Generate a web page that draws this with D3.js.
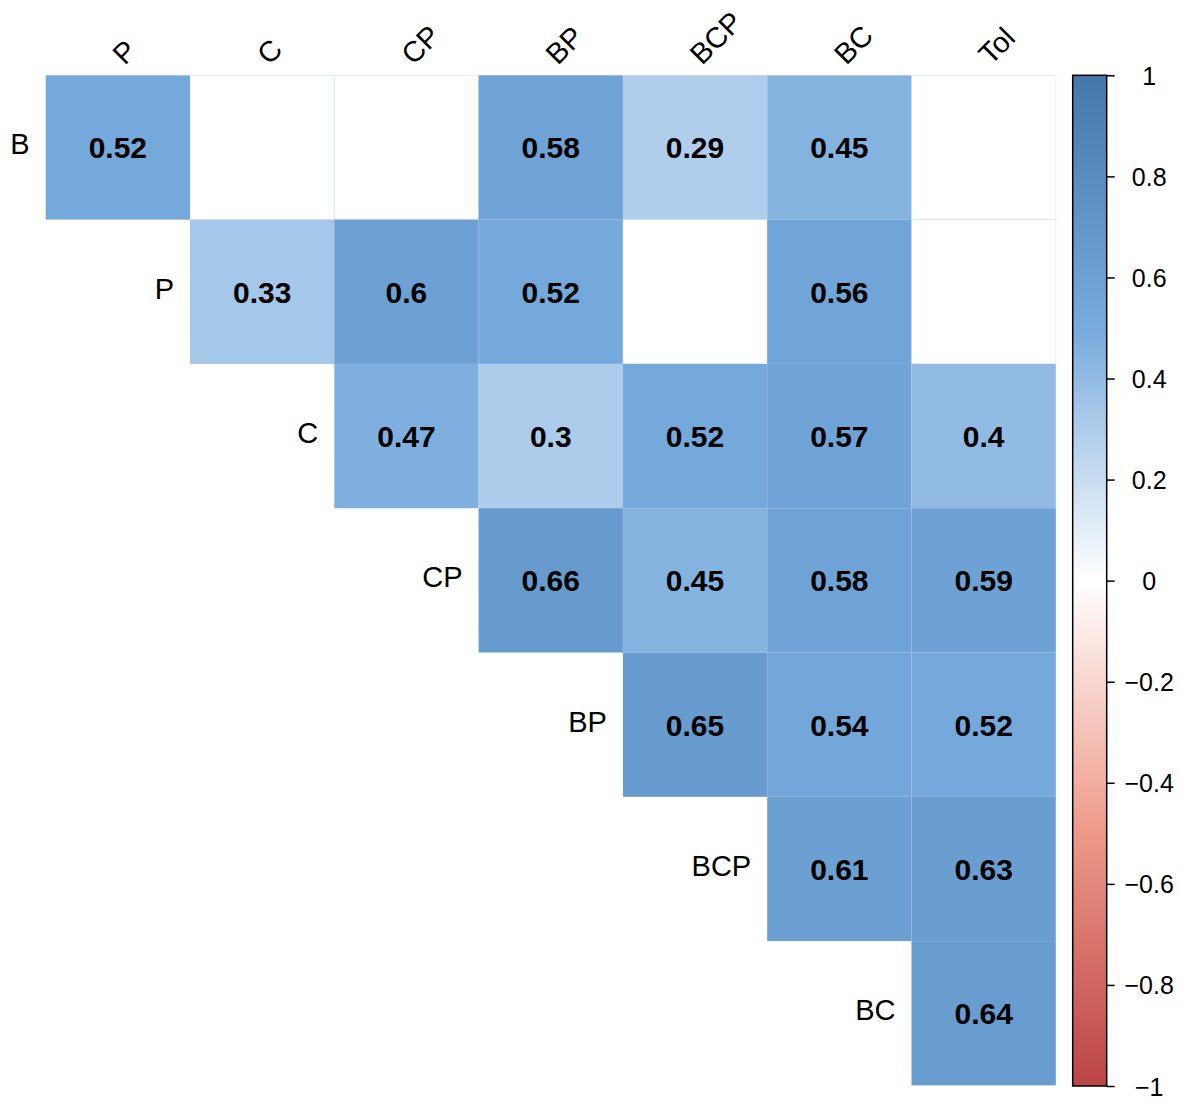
<!DOCTYPE html>
<html>
<head>
<meta charset="utf-8">
<script src="https://cdn.jsdelivr.net/npm/d3@7"></script>
<style>
  html, body { margin: 0; padding: 0; background: #fff; }
  svg { display: block; font-family: "Liberation Sans", Arial, sans-serif; }
</style>
</head>
<body>
<svg id="chart" width="1182" height="1102"></svg>
<script>
// Upper-triangle correlation matrix; null = not significant (left blank)
const rowLabels = ["B", "P", "C", "CP", "BP", "BCP", "BC"];
const colLabels = ["P", "C", "CP", "BP", "BCP", "BC", "Tol"];
const rowB   = [0.52, null, null, 0.58, 0.29, 0.45, null];
const rowP   = [null, 0.33, 0.6, 0.52, null, 0.56, null];
const rowC   = [null, null, 0.47, 0.3, 0.52, 0.57, 0.4];
const rowCP  = [null, null, null, 0.66, 0.45, 0.58, 0.59];
const rowBP  = [null, null, null, null, 0.65, 0.54, 0.52];
const rowBCP = [null, null, null, null, null, 0.61, 0.63];
const rowBC  = [null, null, null, null, null, null, 0.64];
const matrix = [rowB, rowP, rowC, rowCP, rowBP, rowBCP, rowBC];
const legendTicks = [1, 0.8, 0.6, 0.4, 0.2, 0, -0.2, -0.4, -0.6, -0.8, -1];

const svg = d3.select("#chart");

const x = d3.scaleBand().domain(colLabels).range([45.7, 1055.8]);
const y = d3.scaleBand().domain(rowLabels).range([75.3, 1085.4]);
const color = d3.scaleLinear()
  .domain([-1, -0.5, 0, 0.5, 1])
  .range(["#BB4444", "#EE9988", "#FFFFFF", "#77AADD", "#4477AA"]);

// cells in the upper triangle (including the first off-diagonal)
const cells = [];
rowLabels.forEach((r, i) => {
  colLabels.forEach((c, j) => {
    if (j >= i) cells.push({ row: r, col: c, value: matrix[i][j] });
  });
});

const g = svg.append("g");
g.selectAll("rect.cell")
  .data(cells)
  .join("rect")
  .attr("class", "cell")
  .attr("x", d => x(d.col))
  .attr("y", d => y(d.row))
  .attr("width", x.bandwidth())
  .attr("height", y.bandwidth())
  .attr("fill", d => d.value == null ? "#FFFFFF" : color(d.value))
  .attr("stroke", d => d.value == null ? "rgba(119,170,221,0.22)" : "none")
  .attr("stroke-width", 1);

g.selectAll("text.val")
  .data(cells.filter(d => d.value != null))
  .join("text")
  .attr("class", "val")
  .attr("x", d => x(d.col) + x.bandwidth() / 2)
  .attr("y", d => y(d.row) + y.bandwidth() / 2 + 11)
  .attr("text-anchor", "middle")
  .attr("font-weight", "bold")
  .attr("font-size", 30)
  .attr("fill", "#000")
  .text(d => String(d.value));

// row labels sit left of each row's first cell
svg.append("g").selectAll("text")
  .data(rowLabels)
  .join("text")
  .attr("x", (d, i) => x(colLabels[i]) - 16)
  .attr("y", d => y(d) + y.bandwidth() / 2 + 7)
  .attr("text-anchor", "end")
  .attr("font-size", 29)
  .attr("fill", "#000")
  .text(d => d);

// column labels, rotated 45 degrees
svg.append("g").selectAll("text")
  .data(colLabels)
  .join("text")
  .attr("transform", d => `translate(${x(d) + x.bandwidth() / 2 + 7},66) rotate(-45)`)
  .attr("text-anchor", "start")
  .attr("font-size", 29)
  .attr("fill", "#000")
  .text(d => d);

// colour legend
const lx = 1072.7, lw = 34;
const ly = d3.scaleLinear().domain([-1, 1]).range([1086, 75.3]);
const defs = svg.append("defs");
const grad = defs.append("linearGradient")
  .attr("id", "legendGrad")
  .attr("x1", 0).attr("y1", 1).attr("x2", 0).attr("y2", 0);
color.domain().forEach(v => {
  grad.append("stop")
    .attr("offset", (v + 1) / 2)
    .attr("stop-color", color(v));
});
svg.append("rect")
  .attr("x", lx)
  .attr("y", ly(1))
  .attr("width", lw)
  .attr("height", ly(-1) - ly(1))
  .attr("fill", "url(#legendGrad)")
  .attr("stroke", "#000")
  .attr("stroke-width", 1.5);

const axis = d3.axisRight(ly)
  .tickValues(legendTicks)
  .tickSize(8)
  .tickFormat(d => d3.format("")(d).replace("-", "\u2212"));
const ag = svg.append("g")
  .attr("transform", `translate(${lx + lw},0)`)
  .call(axis);
ag.select(".domain").remove();
ag.selectAll(".tick line").attr("stroke", "#000").attr("stroke-width", 1.5);
ag.selectAll(".tick text")
  .attr("x", 42.5)
  .attr("dy", null)
  .attr("y", 9)
  .attr("text-anchor", "middle")
  .attr("font-size", 25)
  .attr("font-family", "\"Liberation Sans\", Arial, sans-serif")
  .attr("fill", "#000");
</script>
</body>
</html>
